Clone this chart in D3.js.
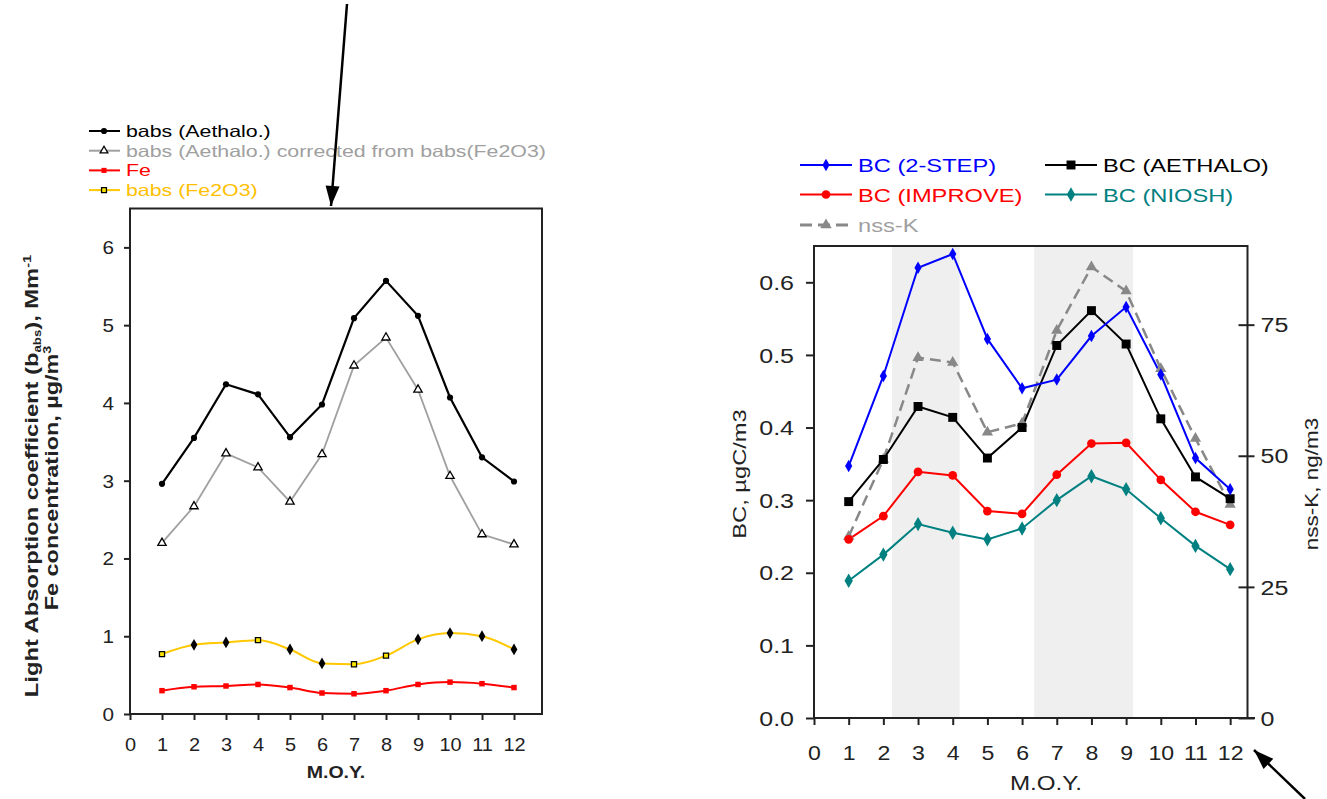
<!DOCTYPE html>
<html><head><meta charset="utf-8">
<script src="https://cdn.jsdelivr.net/npm/d3@7"></script>
<style>body{margin:0;background:#fff} svg{display:block} text{font-family:"Liberation Sans",Arial,sans-serif}</style>
</head><body><svg id="c" width="1327" height="799"></svg>
<script>
// ---------- data ----------
const months = [1,2,3,4,5,6,7,8,9,10,11,12];
const leftXTicks = [0,1,2,3,4,5,6,7,8,9,10,11,12];
const leftYTicks = [0,1,2,3,4,5,6];
const babsAethalo   = [2.96,3.55,4.24,4.11,3.56,3.98,5.09,5.57,5.12,4.07,3.30,2.99];
const babsCorrected = [2.20,2.67,3.35,3.17,2.73,3.34,4.48,4.84,4.17,3.06,2.31,2.18];
const feConc        = [0.30,0.35,0.36,0.38,0.34,0.27,0.26,0.30,0.38,0.41,0.39,0.34];
const babsFe2O3     = [0.77,0.89,0.92,0.95,0.83,0.65,0.64,0.75,0.96,1.04,1.00,0.83];
const fe2o3OpenMonths = [1,4,7,8];
const leftLegend = ["babs (Aethalo.)","babs (Aethalo.) corrected from babs(Fe2O3)","Fe","babs (Fe2O3)"];

const rightXTicks = [0,1,2,3,4,5,6,7,8,9,10,11,12];
const bcTicks  = [0,0.1,0.2,0.3,0.4,0.5,0.6];
const nssTicks = [0,25,50,75];
const bc2step   = [0.347,0.471,0.620,0.639,0.522,0.454,0.466,0.526,0.566,0.473,0.358,0.315];
const bcAethalo = [0.298,0.356,0.429,0.414,0.358,0.400,0.513,0.561,0.515,0.412,0.332,0.302];
const bcImprove = [0.246,0.278,0.339,0.334,0.285,0.281,0.335,0.378,0.379,0.328,0.284,0.266];
const bcNiosh   = [0.189,0.225,0.267,0.255,0.246,0.261,0.300,0.333,0.315,0.275,0.237,0.205];
const nssK      = [34.6,49.3,68.7,67.8,54.5,56.2,73.9,86.0,81.4,66.6,53.3,40.7];
const shadedPeriods = [[2.25,4.2],[6.35,9.2]];
const rightLegend = ["BC (2-STEP)","BC (AETHALO)","BC (IMPROVE)","BC (NIOSH)","nss-K"];

// ---------- helpers ----------
const svg = d3.select('#c');
svg.append('rect').attr('width',1327).attr('height',799).attr('fill','#fff');

function label(parent, x, y, parts, o = {}) {
  const t = parent.append('text')
    .attr('transform', `translate(${x},${y})` + (o.rot ? ` rotate(${o.rot})` : '') + ` scale(${o.sx || 1},1)`)
    .attr('font-size', o.size || 16)
    .attr('font-weight', o.bold ? 'bold' : 'normal')
    .attr('fill', o.color || '#000')
    .attr('text-anchor', o.anchor || 'start');
  if (Array.isArray(parts)) parts.forEach(p => t.append('tspan').attr('font-size', p.size || null).attr('dy', p.dy || 0).text(p.t));
  else t.text(parts);
  return t;
}
function styleTicks(g, o) {
  g.select('.domain').remove();
  g.selectAll('.tick line').attr('stroke', '#222').attr('stroke-width', 2);
  g.selectAll('.tick text')
    .attr('x', 0).attr('y', 0).attr('dy', o.dy || 0)
    .attr('fill', '#222').attr('font-size', o.size)
    .attr('font-family', '"Liberation Sans",Arial,sans-serif')
    .attr('text-anchor', o.anchor)
    .attr('transform', `translate(${o.dx || 0},${o.ty || 0}) scale(${o.sx},1)`);
}
function sym(g, type, size, x, y, fill, stroke, sw) {
  g.append('path').attr('d', d3.symbol().type(type).size(size)())
    .attr('transform', `translate(${x},${y})`)
    .attr('fill', fill).attr('stroke', stroke || 'none').attr('stroke-width', sw || 1);
}
function arrow(x1, y1, x2, y2) {
  svg.append('line').attr('x1', x1).attr('y1', y1).attr('x2', x2).attr('y2', y2)
    .attr('stroke', '#000').attr('stroke-width', 2.5);
  const a = Math.atan2(y2 - y1, x2 - x1), L = 20, W = 7;
  const bx = x2 - L * Math.cos(a), by = y2 - L * Math.sin(a);
  const px = -Math.sin(a) * W, py = Math.cos(a) * W;
  svg.append('path').attr('d', `M${x2},${y2}L${bx + px},${by + py}L${bx - px},${by - py}Z`).attr('fill', '#000');
}

// ---------- LEFT CHART ----------
const L = svg.append('g');
const xL = d3.scaleLinear().domain([0, 12.875]).range([130, 542]);
const yL = d3.scaleLinear().domain([0, 6.5]).range([714, 208.5]);

L.append('rect').attr('x', 130).attr('y', 208.5).attr('width', 412).attr('height', 505.5)
  .attr('fill', 'none').attr('stroke', '#222').attr('stroke-width', 2);

const gLx = L.append('g').attr('transform', 'translate(0,714)')
  .call(d3.axisBottom(xL).tickValues(leftXTicks).tickSize(6).tickSizeOuter(0));
styleTicks(gLx, {size: 19, sx: 1.05, anchor: 'middle', ty: 37});
const gLy = L.append('g').attr('transform', 'translate(130,0)')
  .call(d3.axisLeft(yL).tickValues(leftYTicks).tickSize(6).tickSizeOuter(0).tickFormat(d3.format('d')));
styleTicks(gLy, {size: 18, sx: 1.15, anchor: 'end', dx: -16, dy: '0.36em'});

const lineL = (curve) => d3.line().x((d, i) => xL(months[i])).y(d => yL(d)).curve(curve);
L.append('path').datum(babsCorrected).attr('d', lineL(d3.curveLinear)).attr('fill', 'none').attr('stroke', '#a0a0a0').attr('stroke-width', 1.8);
L.append('path').datum(babsAethalo).attr('d', lineL(d3.curveLinear)).attr('fill', 'none').attr('stroke', '#000').attr('stroke-width', 2.2);
L.append('path').datum(babsFe2O3).attr('d', lineL(d3.curveMonotoneX)).attr('fill', 'none').attr('stroke', '#ffc800').attr('stroke-width', 2);
L.append('path').datum(feConc).attr('d', lineL(d3.curveMonotoneX)).attr('fill', 'none').attr('stroke', '#ff0000').attr('stroke-width', 2);

babsAethalo.forEach((v, i) => sym(L, d3.symbolCircle, 30, xL(months[i]), yL(v), '#000'));
babsCorrected.forEach((v, i) => sym(L, d3.symbolTriangle, 30, xL(months[i]), yL(v), '#fff', '#000', 1.3));
feConc.forEach((v, i) => sym(L, d3.symbolSquare, 30, xL(months[i]), yL(v), '#ff0000'));
babsFe2O3.forEach((v, i) => {
  if (fe2o3OpenMonths.includes(months[i])) sym(L, d3.symbolSquare, 26, xL(months[i]), yL(v), '#ffe600', '#000', 1.3);
  else sym(L, d3.symbolDiamond, 40, xL(months[i]), yL(v), '#000');
});

// left legend
const lColors = ['#000', '#a0a0a0', '#ff0000', '#ffc000'];
const lLine = ['#000', '#a0a0a0', '#ff0000', '#ffc800'];
leftLegend.forEach((name, k) => {
  const cy = 131 + k * 19.7;
  L.append('line').attr('x1', 89).attr('x2', 120).attr('y1', cy).attr('y2', cy).attr('stroke', lLine[k]).attr('stroke-width', 2);
  if (k === 0) sym(L, d3.symbolCircle, 30, 104, cy, '#000');
  if (k === 1) sym(L, d3.symbolTriangle, 26, 104, cy, '#fff', '#000', 1.3);
  if (k === 2) sym(L, d3.symbolSquare, 26, 104, cy, '#ff0000');
  if (k === 3) sym(L, d3.symbolSquare, 24, 104, cy, '#ffe600', '#000', 1.3);
  label(L, 126, cy + 6, name, {size: 16.3, sx: 1.31, color: lColors[k]});
});

// left titles
label(L, 336, 778, 'M.O.Y.', {size: 17, bold: true, sx: 1.15, anchor: 'middle', color: '#222'});
label(L, 38, 476, [
  {t: 'Light Absorption coefficient (b'},
  {t: 'abs', size: 10, dy: 3},
  {t: '), Mm', dy: -3},
  {t: '-1', size: 11, dy: -7}
], {size: 18, bold: true, sx: 1.32, rot: -90, anchor: 'middle', color: '#222'});
label(L, 58, 478, [
  {t: 'Fe concentration, µg/m'},
  {t: '3', size: 11, dy: -7}
], {size: 18, bold: true, sx: 1.3, rot: -90, anchor: 'middle', color: '#222'});

// ---------- RIGHT CHART ----------
const R = svg.append('g');
const xR = d3.scaleLinear().domain([0, 12.5]).range([814, 1247.5]);
const yR = d3.scaleLinear().domain([0, 0.65]).range([718, 246]);
const yK = d3.scaleLinear().domain([0, 90]).range([718, 246]);

shadedPeriods.forEach(p => R.append('rect').attr('x', xR(p[0])).attr('y', 246)
  .attr('width', xR(p[1]) - xR(p[0])).attr('height', 718 - 246).attr('fill', '#efefef'));

R.append('path').attr('d', `M814,718V246H1247.5V718`).attr('fill', 'none').attr('stroke', '#222').attr('stroke-width', 2);
R.append('line').attr('x1', 814).attr('x2', 1255).attr('y1', 718).attr('y2', 718).attr('stroke', '#222').attr('stroke-width', 2);

const gRx = R.append('g').attr('transform', 'translate(0,718)')
  .call(d3.axisBottom(xR).tickValues(rightXTicks).tickSize(7).tickSizeOuter(0));
styleTicks(gRx, {size: 21, sx: 1.1, anchor: 'middle', ty: 42});
const gRy = R.append('g').attr('transform', 'translate(814,0)')
  .call(d3.axisLeft(yR).tickValues(bcTicks).tickSize(8).tickSizeOuter(0).tickFormat(d3.format('.1f')));
styleTicks(gRy, {size: 20, sx: 1.25, anchor: 'end', dx: -20, dy: '0.36em'});
const gRk = R.append('g').attr('transform', 'translate(1247.5,0)')
  .call(d3.axisRight(yK).tickValues(nssTicks).tickSize(8).tickSizeOuter(0));
styleTicks(gRk, {size: 20, sx: 1.25, anchor: 'start', dx: 13, dy: '0.36em'});
gRk.selectAll('.tick line').attr('x1', -9).attr('x2', 7);

const lineR = (sc) => d3.line().x((d, i) => xR(months[i])).y(d => sc(d));
R.append('path').datum(nssK).attr('d', lineR(yK)).attr('fill', 'none').attr('stroke', '#888').attr('stroke-width', 2.5).attr('stroke-dasharray', '11,6');
R.append('path').datum(bcNiosh).attr('d', lineR(yR)).attr('fill', 'none').attr('stroke', '#008080').attr('stroke-width', 2);
R.append('path').datum(bcImprove).attr('d', lineR(yR)).attr('fill', 'none').attr('stroke', '#ff0000').attr('stroke-width', 2);
R.append('path').datum(bcAethalo).attr('d', lineR(yR)).attr('fill', 'none').attr('stroke', '#000').attr('stroke-width', 2);
R.append('path').datum(bc2step).attr('d', lineR(yR)).attr('fill', 'none').attr('stroke', '#0000ff').attr('stroke-width', 2);

nssK.forEach((v, i) => sym(R, d3.symbolTriangle, 55, xR(months[i]), yK(v), '#888'));
bcNiosh.forEach((v, i) => sym(R, d3.symbolDiamond, 60, xR(months[i]), yR(v), '#008080'));
bcImprove.forEach((v, i) => sym(R, d3.symbolCircle, 60, xR(months[i]), yR(v), '#ff0000'));
bcAethalo.forEach((v, i) => sym(R, d3.symbolSquare, 80, xR(months[i]), yR(v), '#000'));
bc2step.forEach((v, i) => sym(R, d3.symbolDiamond, 45, xR(months[i]), yR(v), '#0000ff'));

// right legend
const rCols = [[800, 165], [1045, 165], [800, 194.5], [1045, 194.5], [800, 225]];
const rColor = ['#0000ff', '#000', '#ff0000', '#008080', '#a0a0a0'];
const rLine = ['#0000ff', '#000', '#ff0000', '#008080', '#888'];
rightLegend.forEach((name, k) => {
  const [x0, cy] = rCols[k];
  const ln = R.append('line').attr('x1', x0).attr('x2', x0 + 52).attr('y1', cy).attr('y2', cy).attr('stroke', rLine[k]).attr('stroke-width', k === 4 ? 3 : 2);
  if (k === 4) ln.attr('stroke-dasharray', '12,6');
  const mx = x0 + 26;
  if (k === 0) sym(R, d3.symbolDiamond, 45, mx, cy, '#0000ff');
  if (k === 1) sym(R, d3.symbolSquare, 80, mx, cy, '#000');
  if (k === 2) sym(R, d3.symbolCircle, 60, mx, cy, '#ff0000');
  if (k === 3) sym(R, d3.symbolDiamond, 60, mx, cy, '#008080');
  if (k === 4) sym(R, d3.symbolTriangle, 55, mx, cy, '#888');
  label(R, x0 + 58, cy + 7, name, {size: 18.5, sx: 1.28, color: rColor[k]});
});

label(R, 1046, 790, 'M.O.Y.', {size: 21, sx: 1.15, anchor: 'middle', color: '#222'});
label(R, 746, 474, 'BC, µgC/m3', {size: 18.5, sx: 1.28, rot: -90, anchor: 'middle', color: '#222'});
label(R, 1318, 484, 'nss-K, ng/m3', {size: 18, sx: 1.25, rot: -90, anchor: 'middle', color: '#222'});

// ---------- annotation arrows ----------
arrow(347, 4, 331, 206);
arrow(1305, 799, 1254, 750);
</script></body></html>
